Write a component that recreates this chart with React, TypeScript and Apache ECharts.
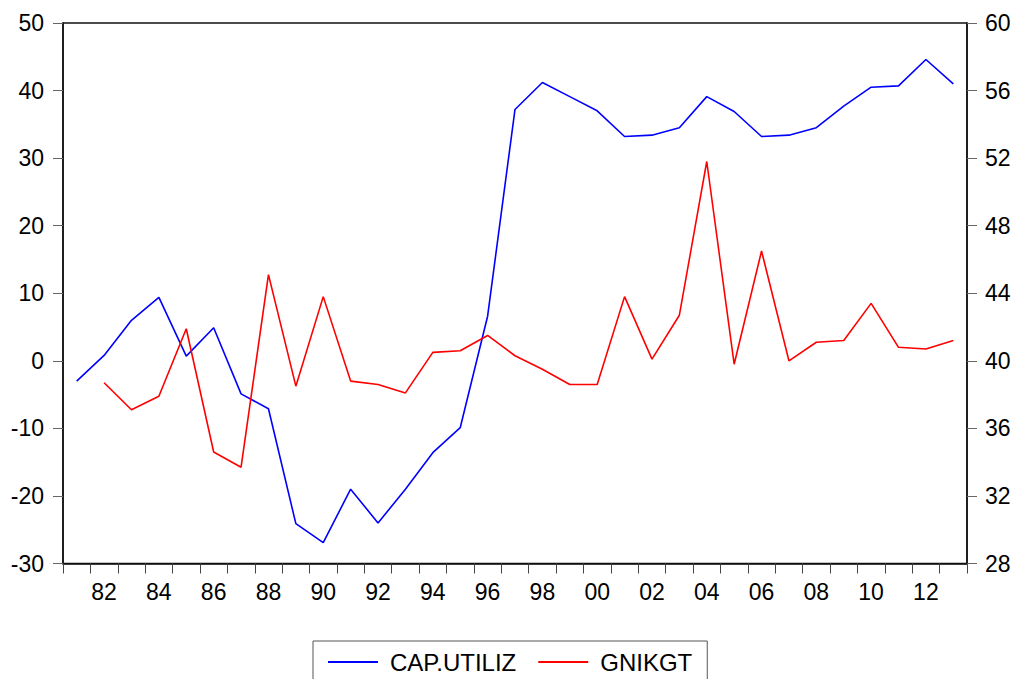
import React, { useEffect, useRef } from "react";
import * as echarts from "echarts";

const years: string[] = [
  "1981", "1982", "1983", "1984", "1985", "1986", "1987", "1988", "1989", "1990",
  "1991", "1992", "1993", "1994", "1995", "1996", "1997", "1998", "1999", "2000",
  "2001", "2002", "2003", "2004", "2005", "2006", "2007", "2008", "2009", "2010",
  "2011", "2012", "2013",
];

const capUtiliz: number[] = [
  -3.0, 0.8, 6.0, 9.4, 0.7, 4.9, -4.9, -7.1, -24.1, -26.9,
  -19.0, -24.0, -19.0, -13.6, -9.9, 6.6, 37.2, 41.2, 39.1, 37.0,
  33.2, 33.4, 34.5, 39.1, 36.9, 33.2, 33.4, 34.5, 37.7, 40.5,
  40.7, 44.6, 41.0,
];

const gnikgt: (number | null)[] = [
  null, 38.7, 37.1, 37.9, 41.9, 34.6, 33.7, 45.1, 38.5, 43.8,
  38.8, 38.6, 38.1, 40.5, 40.6, 41.5, 40.3, 39.5, 38.6, 38.6,
  43.8, 40.1, 42.7, 51.8, 39.8, 46.5, 40.0, 41.1, 41.2, 43.4,
  40.8, 40.7, 41.2,
];

const FONT = "Liberation Sans, Arial, Helvetica, sans-serif";

export default function App() {
  const ref = useRef<HTMLDivElement>(null);

  useEffect(() => {
    if (!ref.current) return;
    const chart = echarts.init(ref.current, undefined, { renderer: "svg" });
    chart.setOption({
      animation: false,
      backgroundColor: "#ffffff",
      textStyle: { fontFamily: FONT },
      grid: {
        left: 63,
        right: 51,
        top: 23,
        bottom: 115.5,
        show: true,
        borderColor: "#111",
        borderWidth: 1.5,
        containLabel: false,
      },
      legend: {
        left: 313,
        top: 641,
        orient: "horizontal",
        icon: "rect",
        itemWidth: 50,
        itemHeight: 2,
        itemGap: 22,
        borderColor: "#555",
        borderWidth: 1,
        padding: [9, 15, 20, 15],
        textStyle: { fontSize: 24, color: "#000", fontFamily: FONT, padding: [0, 0, 0, 7] },
        data: ["CAP.UTILIZ", "GNIKGT"],
      },
      xAxis: {
        type: "category",
        data: years,
        boundaryGap: true,
        axisLine: { show: true, onZero: false, lineStyle: { color: "#111", width: 1.5 } },
        axisTick: { show: true, interval: 0, length: 10, lineStyle: { color: "#444", width: 1 } },
        axisLabel: {
          interval: (index: number) => index % 2 === 1,
          formatter: (v: string) => v.slice(2),
          fontSize: 23,
          color: "#000",
          fontFamily: FONT,
          margin: 17,
        },
        splitLine: { show: false },
      },
      yAxis: [
        {
          type: "value",
          min: -30,
          max: 50,
          interval: 10,
          position: "left",
          axisLine: { show: true, lineStyle: { color: "#111", width: 1.5 } },
          axisTick: { show: true, length: 10, lineStyle: { color: "#666", width: 1 } },
          axisLabel: { fontSize: 23, color: "#000", fontFamily: FONT, margin: 19 },
          splitLine: { show: false },
        },
        {
          type: "value",
          min: 28,
          max: 60,
          interval: 4,
          position: "right",
          axisLine: { show: true, lineStyle: { color: "#111", width: 1.5 } },
          axisTick: { show: true, length: 10, lineStyle: { color: "#666", width: 1 } },
          axisLabel: { fontSize: 23, color: "#000", fontFamily: FONT, margin: 18 },
          splitLine: { show: false },
        },
      ],
      series: [
        {
          name: "CAP.UTILIZ",
          type: "line",
          yAxisIndex: 0,
          data: capUtiliz,
          showSymbol: false,
          symbol: "none",
          lineStyle: { color: "#0000ff", width: 1.6 },
          itemStyle: { color: "#0000ff" },
        },
        {
          name: "GNIKGT",
          type: "line",
          yAxisIndex: 1,
          data: gnikgt,
          showSymbol: false,
          symbol: "none",
          lineStyle: { color: "#ff0000", width: 1.6 },
          itemStyle: { color: "#ff0000" },
        },
      ],
    });
    return () => chart.dispose();
  }, []);

  return (
    <div
      ref={ref}
      style={{ position: "fixed", left: 0, top: 0, width: 1018, height: 679, background: "#fff" }}
    />
  );
}
